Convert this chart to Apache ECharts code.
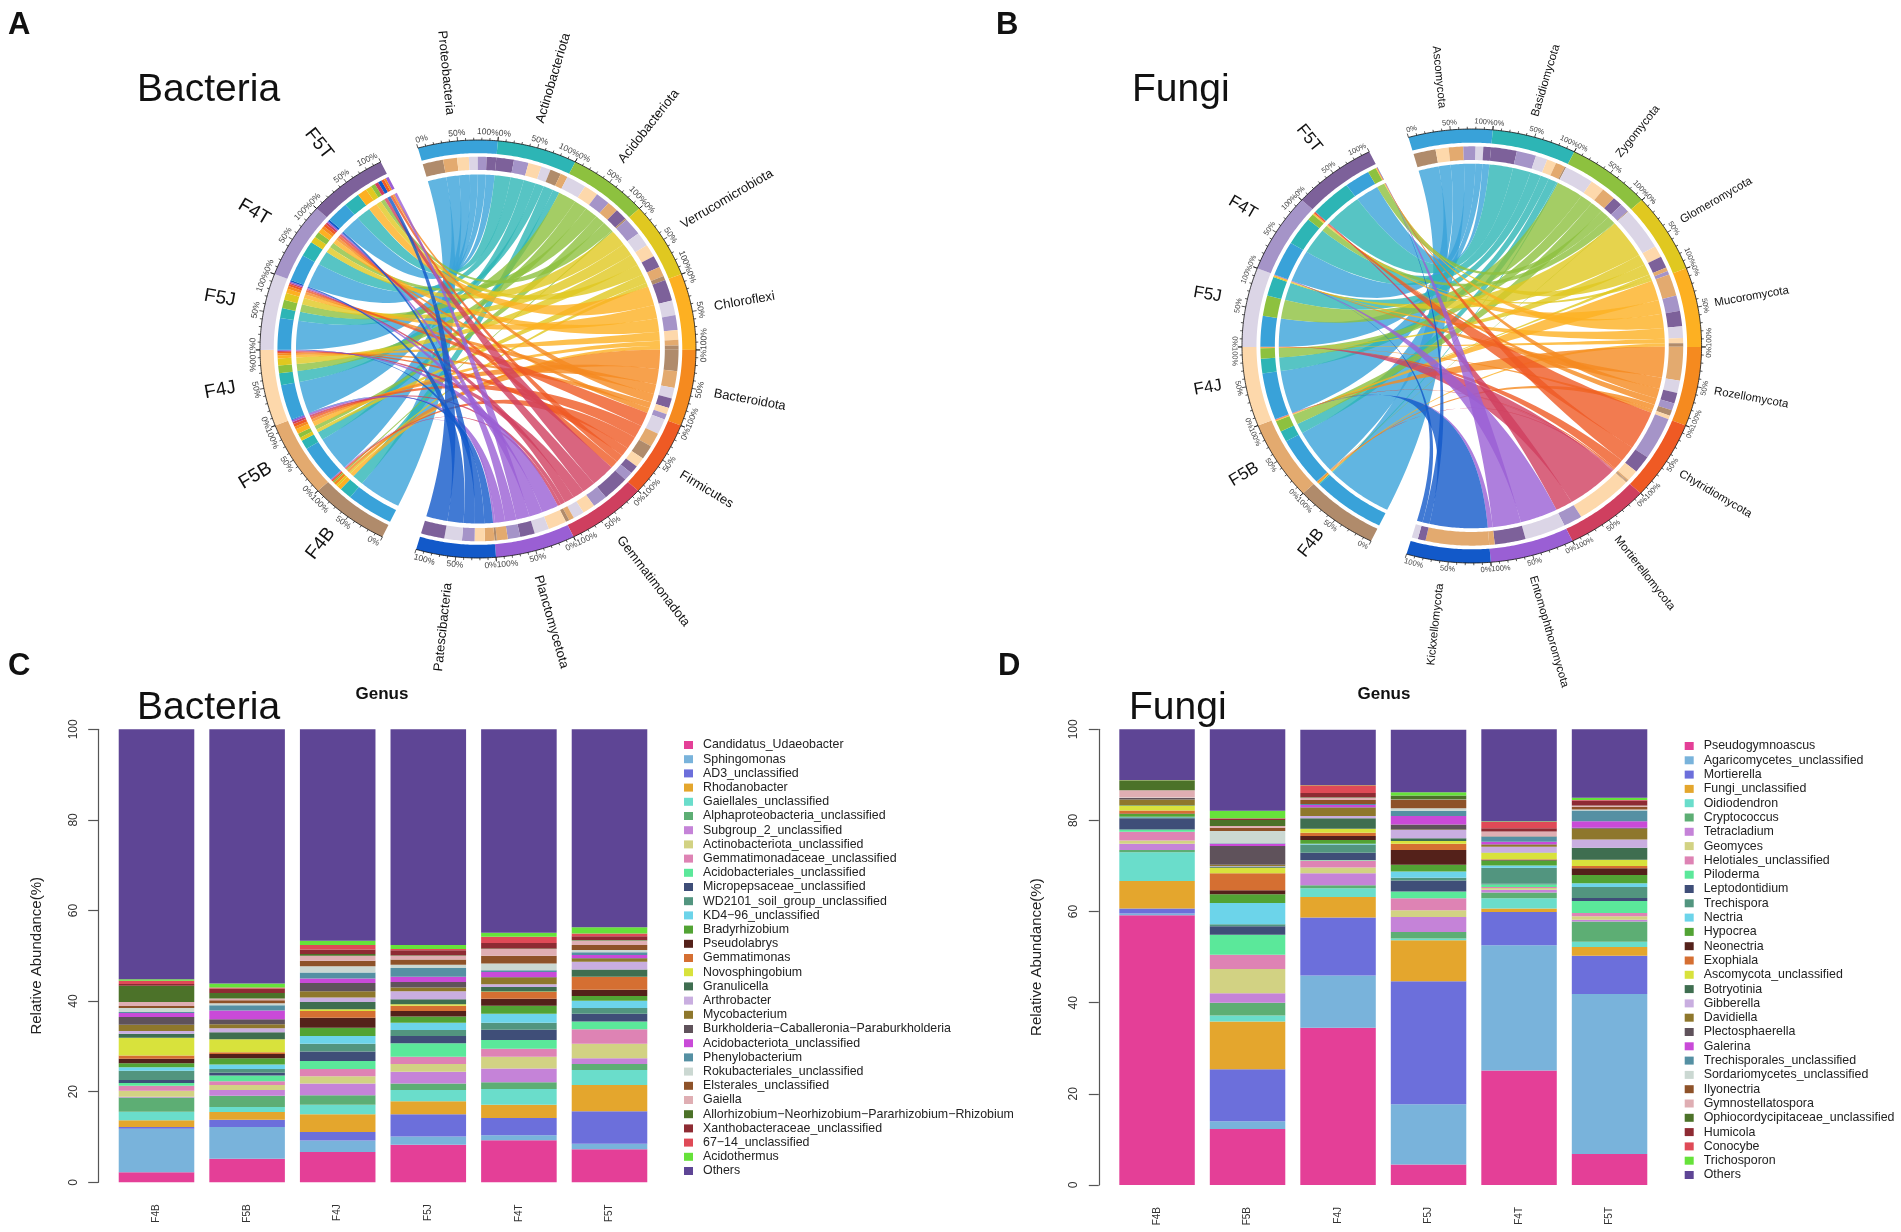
<!DOCTYPE html>
<html><head><meta charset="utf-8">
<style>html,body{margin:0;padding:0;background:#fff}#c{width:1901px;height:1232px}</style>
<script src="https://cdn.jsdelivr.net/npm/echarts@6/dist/echarts.min.js"></script>
</head><body><div id="c"></div>
<script>
const samples=['F4B','F5B','F4J','F5J','F4T','F5T'];
const sampleColors=['#b08b6b','#e3aa6f','#fdd8ab','#dbd5e6','#a594c8','#7d619a'];
const phylumColors=['#39a2d9','#2db5b5','#8dc13f','#e0c820','#fdb022','#f58a1f','#ef5a24','#cf3f5f','#9a5fd4','#1259c9'];
const bacteriaPhyla=['Proteobacteria','Actinobacteriota','Acidobacteriota','Verrucomicrobiota','Chloroflexi','Bacteroidota','Firmicutes','Gemmatimonadota','Planctomycetota','Patescibacteria'];
const fungiPhyla=['Ascomycota','Basidiomycota','Zygomycota','Glomeromycota','Mucoromycota','Rozellomycota','Chytridiomycota','Mortierellomycota','Entomophthoromycota','Kickxellomycota'];
// each sample: [phylum index, % of the sample], in ring order from 0% to 100%
const bacteriaSampleLinks=[
[[0,64],[1,17],[4,6],[3,3],[5,4],[2,2],[6,2],[7,1],[8,1]],
[[0,54],[1,13],[3,5],[2,6],[4,7],[5,4],[6,4],[7,3],[8,3],[9,1]],
[[0,50],[1,17],[2,11],[3,10],[4,4],[5,3],[6,2],[7,1.5],[8,1],[9,0.5]],
[[0,45],[1,14],[2,12],[3,10],[4,6],[5,4],[6,3],[7,2],[8,2],[9,2]],
[[0,38],[1,22],[3,9],[2,8],[4,7],[5,4],[6,4],[7,3],[8,2],[9,3]],
[[0,30],[1,22],[4,13],[3,8],[2,6],[7,5],[9,5],[6,4],[5,3],[8,4]]];
// each phylum: [sample index, % of the phylum], in ring order from 0% to 100%
const bacteriaPhylumLinks=[
[[0,28],[1,19],[2,16],[3,12],[4,12],[5,13]],
[[5,24],[4,20],[2,18],[3,13],[0,15],[1,10]],
[[3,25],[2,18],[4,18],[1,14],[5,15],[0,2]],
[[4,25],[3,20],[2,18],[5,17],[1,14],[0,6]],
[[5,30],[3,21],[4,21],[2,14],[1,8],[0,6]],
[[0,30],[1,24],[3,15],[5,14],[2,9],[4,8]],
[[3,22],[1,20],[0,20],[2,14],[5,12],[4,12]],
[[5,36],[4,20],[2,17],[3,15],[1,7],[0,5]],
[[2,25],[3,20],[5,20],[4,17],[1,15],[0,3]],
[[1,13],[2,14],[4,17],[3,24],[5,32]]];
const fungiSampleLinks=[
[[0,94],[1,1.5],[4,1.5],[5,1.5],[2,0.5],[6,0.3],[7,0.2]],
[[0,67],[1,15],[2,15],[3,0.5],[4,0.7],[5,0.7],[6,0.3],[7,0.2],[8,0.3],[9,0.3]],
[[0,64],[1,20],[2,14],[3,0.5],[4,0.5],[5,0.3],[6,0.3],[7,0.3]],
[[0,42],[2,28],[1,26],[3,1.5],[4,1],[5,0.5],[8,0.6],[9,0.2]],
[[0,48],[1,39],[2,9],[3,1],[4,1],[5,0.5],[6,1.5],[7,1]],
[[1,54],[0,33],[2,11],[3,0.5],[4,0.5],[5,0.5],[6,0.5],[8,0.3],[9,0.2]]];
const fungiPhylumLinks=[
[[0,29],[2,17],[1,19],[4,16],[3,10],[5,10]],
[[5,33],[4,25],[3,15],[2,12],[1,12],[0,2]],
[[3,38],[2,18],[1,18],[5,13],[4,12],[0,1]],
[[3,58],[2,16],[5,16],[1,5],[4,5]],
[[1,30],[4,21],[5,21],[3,16],[2,7],[0,5]],
[[1,47],[3,17],[5,15],[4,10],[0,8],[2,5]],
[[4,58],[5,24],[2,15],[1,2],[0,1]],
[[0,1],[1,1],[2,73],[4,24]],
[[3,53],[5,40],[1,7]],
[[1,82],[5,10],[3,8]]];

const genusColors=['#E43F97','#79B3DB','#6C6FDB','#E4A62D','#6ADDCB','#5DAE74','#C583D8','#D2D283','#DE83B4','#5BE89A','#3F4E78','#52957F','#6CD4EA','#52A334','#54211A','#D56F32','#D8E23C','#3F6E50','#C9AEE0','#8E772C','#5F525B','#C94AD8','#5590A3','#CBD8D2','#8E5229','#DFAEB3','#4C7229','#8E2B33','#DF4A57','#66E23A','#5E4595'];
const bacteriaGenera=['Candidatus_Udaeobacter','Sphingomonas','AD3_unclassified','Rhodanobacter','Gaiellales_unclassified','Alphaproteobacteria_unclassified','Subgroup_2_unclassified','Actinobacteriota_unclassified','Gemmatimonadaceae_unclassified','Acidobacteriales_unclassified','Micropepsaceae_unclassified','WD2101_soil_group_unclassified','KD4−96_unclassified','Bradyrhizobium','Pseudolabrys','Gemmatimonas','Novosphingobium','Granulicella','Arthrobacter','Mycobacterium','Burkholderia−Caballeronia−Paraburkholderia','Acidobacteriota_unclassified','Phenylobacterium','Rokubacteriales_unclassified','Elsterales_unclassified','Gaiella','Allorhizobium−Neorhizobium−Pararhizobium−Rhizobium','Xanthobacteraceae_unclassified','67−14_unclassified','Acidothermus','Others'];
const fungiGenera=['Pseudogymnoascus','Agaricomycetes_unclassified','Mortierella','Fungi_unclassified','Oidiodendron','Cryptococcus','Tetracladium','Geomyces','Helotiales_unclassified','Piloderma','Leptodontidium','Trechispora','Nectria','Hypocrea','Neonectria','Exophiala','Ascomycota_unclassified','Botryotinia','Gibberella','Davidiella','Plectosphaerella','Galerina','Trechisporales_unclassified','Sordariomycetes_unclassified','Ilyonectria','Gymnostellatospora','Ophiocordycipitaceae_unclassified','Humicola','Conocybe','Trichosporon','Others'];
const bacteriaF4B=[2.2,9.6,0.4,1.5,1.9,3.1,0.2,1.3,1.1,0.6,0.7,2,0.8,0.9,1,0.7,3.9,0.9,0.6,1.4,1.7,0.9,0.2,0.9,0.4,0.9,3.6,0.4,0.7,0.3,55.2];
const bacteriaF5B=[5.2,7,1.6,1.7,1.1,2.5,1.3,1.1,0.8,1.3,0.6,0.8,1,1.4,0.9,0.4,2.9,1.5,0.9,0.9,1.1,1.9,1.2,0.4,0.7,0.4,1.2,1,0.2,0.9,56.1];
const bacteriaF4J=[6.7,2.5,1.9,3.9,2.1,2.1,2.6,1.6,1.6,1.8,2.1,1.7,1.7,1.8,2.2,1.5,0.4,1.6,1,1.4,1.8,1,1.3,1.4,1.2,1.1,0.4,1,1,0.9,46.7];
const bacteriaF5J=[8.3,1.8,4.9,2.9,2.5,1.4,2.6,1.7,1.6,3,1.6,1.3,1.6,1.4,1.2,1.2,0.3,1.1,1.8,0.8,1.2,1.2,1.9,0.7,1.2,0.8,0.1,1.1,0.3,0.9,47.6];
const bacteriaF4T=[9.3,1.1,3.8,2.9,3.5,1.5,3,2.6,1.8,1.9,2.3,1.5,2,1.8,1.5,1.5,0.1,1,0.6,1.5,0.1,1.1,0.4,1.5,1.7,1.5,0.1,1.2,1.4,0.9,44.9];
const bacteriaF5T=[7.3,1.2,7.2,5.8,3.3,1.3,1.3,3.2,3.2,1.7,1.7,1.3,1.6,1,1.4,2.8,0.1,1.6,1.7,0.7,0.1,0.7,0.6,0.5,1.1,1,0.1,0.8,0.6,1.4,43.7];
const fungiF4B=[59.2,0.4,1.1,6,6.3,0.5,1.4,0.7,1.9,0.5,2.5,0.2,0.1,0.6,0.1,0.7,1.1,0.1,0,1.2,0.3,0,0,0.15,0,1.6,2.1,0.05,0,0.05,11.2];
const fungiF5B=[12.3,1.7,11.4,10.5,1.3,2.8,2.1,5.3,3.1,4.4,1.9,0.4,4.7,1.9,0.9,3.7,1.2,0.3,0.1,0.3,4.1,0.5,0.1,2.7,0.7,0.4,1.3,0.3,0.1,1.6,18];
const fungiF4J=[34.5,11.5,12.7,4.5,1.9,0.7,2.6,1.3,1.5,0.1,1.6,1.8,0.2,0.8,0.9,0.7,0.9,2.3,0.5,1.8,0.1,0.5,0.2,0,0.9,0.5,0.1,0.9,1.7,0.1,12.1];
const fungiF5J=[4.5,13.2,27,9,0.4,1.4,3.3,1.5,2.6,1.5,2.4,0.6,1.4,1.5,3.2,1.4,0.6,0.6,1.8,0.1,1.1,1.9,1.1,0.6,1.8,0.1,0.9,0,0,0.7,13.7];
const fungiF4T=[25.1,27.5,7.3,0.8,2.2,1.3,0.6,0.4,0.2,0.6,0.1,3.5,0.5,1.1,0.2,0.1,1.4,0.05,1.3,0.4,0.1,0.6,1.1,0.05,0.05,1,0.05,0.7,1.4,0.1,20.2];
const fungiF5T=[6.8,35.1,8.4,1.9,1.2,4.4,0.4,0.8,0.7,2.6,0.7,2.4,0.8,1.8,1.5,0.5,1.4,2.6,1.8,2.4,0.2,1.4,2.4,0.2,0.6,0.2,0.1,1.1,0.1,0.5,15];
const bacteriaColumns=[bacteriaF4B,bacteriaF5B,bacteriaF4J,bacteriaF5J,bacteriaF4T,bacteriaF5T];
const fungiColumns=[fungiF4B,fungiF5B,fungiF4J,fungiF5J,fungiF4T,fungiF5T];
const yTicks=[0,20,40,60,80,100];

const FONT='"Liberation Sans",Arial,sans-serif';
function chordMarks(g,phyla,sampleLinks,phylumLinks){
  const SW=21.25,RS=-16,LS=206;
  const pt=(t,r)=>{const a=t*Math.PI/180;return [g.cx+g.rx*r*Math.sin(a),g.cy-g.ry*r*Math.cos(a)];};
  const arc=(a,b,r)=>{const n=Math.max(2,Math.ceil(Math.abs(b-a)/0.6)),o=[];for(let i=0;i<=n;i++)o.push(pt(a+(b-a)*i/n,r));return o;};
  const band=(a,b,r1,r2)=>arc(a,b,r1).concat(arc(b,a,r2));
  const marks=[];
  const poly=(points,fill,opacity)=>marks.push({type:'polygon',shape:{points},style:{fill,opacity:opacity==null?1:opacity,stroke:null}});
  const line=(points,w)=>marks.push({type:'polyline',shape:{points},style:{stroke:'#111',lineWidth:w,fill:null}});
  const sectors=[];
  phyla.forEach((n,i)=>sectors.push({name:n,start:RS+i*SW,color:phylumColors[i],big:false}));
  samples.forEach((n,i)=>sectors.push({name:n,start:LS+i*SW,color:sampleColors[i],big:true}));
  const RIB=g.rib;
  function spans(list,start){const tot=list.reduce((s,d)=>s+d[1],0);let c=start;const m={};list.forEach(d=>{const w=d[1]/tot*SW;m[d[0]]=[c,c+w];c+=w;});return m;}
  const sampleSpans=sampleLinks.map((l,i)=>spans(l,LS+i*SW));
  const phylumSpans=phylumLinks.map((l,i)=>spans(l,RS+i*SW));
  // ribbons
  phylumLinks.forEach((list,p)=>list.forEach(d=>{
    const sp=sampleSpans[d[0]][p];if(!sp)return;const pp=phylumSpans[p][d[0]];
    const q=(a,b)=>{const o=[];for(let i=1;i<40;i++){const t=i/40,u=1-t;o.push([u*u*a[0]+2*u*t*g.cx+t*t*b[0],u*u*a[1]+2*u*t*g.cy+t*t*b[1]]);}return o;};
    const A=arc(sp[0],sp[1],RIB),B=arc(pp[0],pp[1],RIB);
    poly(A.concat(q(A[A.length-1],B[0]),B,q(B[B.length-1],A[0])),phylumColors[p],0.8);
  }));
  // inner rings
  phylumLinks.forEach((list,p)=>list.forEach(d=>{const s=phylumSpans[p][d[0]];poly(band(s[0],s[1],0.92,0.857),sampleColors[d[0]]);}));
  sampleLinks.forEach((list,k)=>list.forEach(d=>{const s=sampleSpans[k][d[0]];poly(band(s[0],s[1],0.92,0.857),phylumColors[d[0]]);}));
  // outer tracks, axis and labels
  const dir=(t,r)=>{const a=t*Math.PI/180;return [g.rx*Math.sin(a),-g.ry*Math.cos(a)];};
  sectors.forEach(S=>{
    poly(band(S.start,S.start+SW,1,0.937),S.color);
    line(arc(S.start,S.start+SW,1),0.8);
    for(let k=0;k<=10;k++){
      const t=S.start+SW*k/10,major=k%5===0;
      line([pt(t,1),pt(t,1+(major?4.2:2.4)/g.rx)],0.7);
      if(major){
        const a=t*Math.PI/180,top=Math.cos(a)>=0;
        let dx=g.rx*Math.cos(a),dy=g.ry*Math.sin(a);if(!top){dx=-dx;dy=-dy;}
        const rot=-Math.atan2(dy,dx);
        let align='center';
        if(k===0)align=top?'left':'right';
        if(k===10)align=top?'right':'left';
        const P=pt(t,1+g.tickOff/g.rx);
        marks.push({type:'text',x:P[0],y:P[1],rotation:rot,style:{text:(k*10)+'%',fontSize:g.tickFont,fill:'#444',fontFamily:FONT,align,verticalAlign:'middle'}});
      }
    }
    const mid=S.start+SW/2,d=dir(mid),right=Math.sin(mid*Math.PI/180)>0;
    const rot=right?-Math.atan2(d[1],d[0]):-Math.atan2(-d[1],-d[0]);
    const P=pt(mid,S.big?g.sampleR:g.nameR);
    const X=P[0]+(S.big?g.sampleDx:g.nameDx),Y=P[1]+(S.big?g.sampleDy:0);
    marks.push({type:'text',x:X,y:Y,rotation:rot,style:{text:S.name,fontSize:S.big?g.sampleFont:g.nameFont,fill:'#111',fontFamily:FONT,align:S.big?'center':(right?'left':'right'),verticalAlign:'middle'}});
  });
  return marks;
}
const chordA=chordMarks({cx:478,cy:349,rx:218,ry:209,rib:0.835,tickOff:8,tickFont:8.5,nameR:1.125,sampleR:1.195,nameFont:13,sampleFont:19,nameDx:-5,sampleDx:-2,sampleDy:-6},bacteriaPhyla,bacteriaSampleLinks,bacteriaPhylumLinks);
const chordB=chordMarks({cx:1471.8,cy:346,rx:229.8,ry:217,rib:0.84,tickOff:7.5,tickFont:7.5,nameR:1.1,sampleR:1.165,nameFont:11.5,sampleFont:17,nameDx:-6,sampleDx:-1,sampleDy:-6},fungiPhyla,fungiSampleLinks,fungiPhylumLinks);
function chordSeries(marks){return {type:'custom',coordinateSystem:'none',silent:true,data:[0],renderItem:()=>({type:'group',children:marks})};}

function barSeries(names,columns,axis,stack){
  return names.map((n,i)=>({type:'bar',name:n,stack,xAxisIndex:axis,yAxisIndex:axis,barCategoryGap:'16.6%',silent:true,
    itemStyle:{color:genusColors[i]},data:columns.map(c=>c[i])}));
}
function xAx(idx){return {type:'category',gridIndex:idx,data:samples,axisLine:{show:false},axisTick:{show:false},
  axisLabel:{rotate:90,fontSize:10,color:'#333',margin:22,fontFamily:FONT}};}
function yAx(idx){return {type:'value',gridIndex:idx,min:yTicks[0],max:yTicks[5],interval:yTicks[1],offset:13,
  name:'Relative Abundance(%)',nameLocation:'middle',nameGap:54,nameRotate:90,nameTextStyle:{fontSize:15,color:'#222',fontFamily:FONT},
  splitLine:{show:false},axisLine:{show:true,lineStyle:{color:'#555',width:1.2}},axisTick:{show:true,length:10,lineStyle:{color:'#555',width:1.2}},
  axisLabel:{rotate:90,fontSize:12,color:'#333',margin:19,fontFamily:FONT}};}
function legend(names,left,gap,top,size){return {orient:'vertical',left,top,padding:0,itemWidth:9,itemHeight:8,itemGap:gap,icon:'rect',selectedMode:false,data:names,
  textStyle:{fontSize:size,color:'#222',fontFamily:FONT,padding:[0,0,0,5],lineHeight:12}};}
function label(text,x,y,size,bold,align){return {text,left:x,top:y,padding:0,textAlign:align||'left',textStyle:{fontSize:size,fontWeight:bold?'bold':'normal',color:'#111',fontFamily:FONT}};}

const chart=echarts.init(document.getElementById('c'),null,{renderer:'canvas'});
chart.setOption({
  animation:false,backgroundColor:'#fff',
  title:[label('A',8,10,31,true),label('B',996,10,31,true),label('C',8,651,31,true),label('D',998,651,31,true),
    label('Bacteria',137,71,39),label('Fungi',1132,71,39),label('Bacteria',137,689,39),label('Fungi',1129,689,39),
    label('Genus',382,686,17,true,'center'),label('Genus',1384,686,17,true,'center')],
  grid:[{left:111.2,top:729.3,width:543.6,height:453},{left:1111.8,top:729.3,width:543,height:455.7}],
  xAxis:[xAx(0),xAx(1)],yAxis:[yAx(0),yAx(1)],
  legend:[legend(bacteriaGenera,684,2.2,739,12.4),legend(fungiGenera,1684.7,2.3,740,12.4)],
  series:[chordSeries(chordA),chordSeries(chordB)].concat(barSeries(bacteriaGenera,bacteriaColumns,0,'b'),barSeries(fungiGenera,fungiColumns,1,'f'))
});
</script></body></html>
